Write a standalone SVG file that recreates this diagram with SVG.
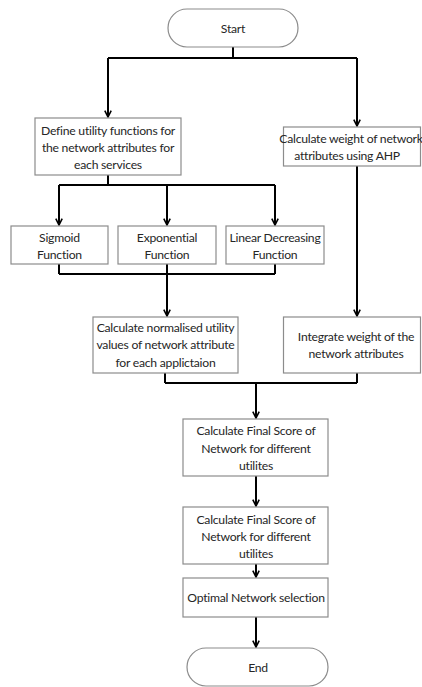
<svg xmlns="http://www.w3.org/2000/svg" width="422" height="687" viewBox="0 0 422 687">
<defs>
<marker id="arr" viewBox="0 0 10 10" refX="9" refY="5" markerWidth="8" markerHeight="8" markerUnits="userSpaceOnUse" orient="auto">
<path d="M1,1 L9,5 L1,9" fill="none" stroke="#000" stroke-width="2"/>
</marker>
<style>
.box{fill:#fff;stroke:#8c8c8c;stroke-width:1.2}
.t{font-family:Lato,"Open Sans","Liberation Sans",sans-serif;font-size:12.2px;letter-spacing:-0.25px;fill:#262626;text-anchor:middle;dominant-baseline:central}
.c{fill:none;stroke:#000;stroke-width:2}
</style>
</defs>
<rect width="422" height="687" fill="#fff"/>
<g id="connectors">
<path class="c" d="M233,47 V58 M108,58 H357"/>
<path class="c" d="M108,58 V117" marker-end="url(#arr)"/>
<path class="c" d="M357,58 V126" marker-end="url(#arr)"/>
<path class="c" d="M108,175 V185 M59,185 H275"/>
<path class="c" d="M59,185 V225" marker-end="url(#arr)"/>
<path class="c" d="M167,185 V225" marker-end="url(#arr)"/>
<path class="c" d="M275,185 V225" marker-end="url(#arr)"/>
<path class="c" d="M59,264 V274 M167,264 V274 M275,264 V274 M59,274 H275"/>
<path class="c" d="M167,274 V316" marker-end="url(#arr)"/>
<path class="c" d="M357,166 V316" marker-end="url(#arr)"/>
<path class="c" d="M165,373 V383 M357,373 V383 M165,383 H357"/>
<path class="c" d="M256,383 V418" marker-end="url(#arr)"/>
<path class="c" d="M256,476 V506" marker-end="url(#arr)"/>
<path class="c" d="M256,564 V577" marker-end="url(#arr)"/>
<path class="c" d="M256,617 V647" marker-end="url(#arr)"/>
</g>
<g id="start">
<rect class="box" x="168" y="9" width="130" height="38" rx="19"/>
<text class="t" x="233" y="28">Start</text>
</g>
<g id="define">
<rect class="box" x="35" y="118" width="146" height="57"/>
<text class="t" x="108" y="130">Define utility functions for</text>
<text class="t" x="108" y="147">the network attributes for</text>
<text class="t" x="108" y="164">each services</text>
</g>
<g id="weight">
<rect class="box" x="283.5" y="127" width="137" height="39"/>
<text class="t" x="351" y="138">Calculate weight of network</text>
<text class="t" x="347" y="155">attributes using AHP</text>
</g>
<g id="sigmoid">
<rect class="box" x="11" y="226" width="97" height="38"/>
<text class="t" x="59.5" y="237">Sigmoid</text>
<text class="t" x="59.5" y="254">Function</text>
</g>
<g id="exponential">
<rect class="box" x="118" y="226" width="98" height="38"/>
<text class="t" x="167" y="237">Exponential</text>
<text class="t" x="167" y="254">Function</text>
</g>
<g id="linear">
<rect class="box" x="226" y="226" width="98" height="38"/>
<text class="t" x="275" y="237">Linear Decreasing</text>
<text class="t" x="275" y="254">Function</text>
</g>
<g id="normalised">
<rect class="box" x="93" y="317" width="145" height="56"/>
<text class="t" x="165.5" y="327">Calculate normalised utility</text>
<text class="t" x="165.5" y="344">values of network attribute</text>
<text class="t" x="165.5" y="362">for each applictaion</text>
</g>
<g id="integrate">
<rect class="box" x="283.5" y="317" width="137" height="56"/>
<text class="t" x="356" y="336">Integrate weight of the</text>
<text class="t" x="356" y="353">network attributes</text>
</g>
<g id="final1">
<rect class="box" x="183" y="419" width="145" height="57"/>
<text class="t" x="256" y="430">Calculate Final Score of</text>
<text class="t" x="256" y="448">Network for different</text>
<text class="t" x="256" y="465">utilites</text>
</g>
<g id="final2">
<rect class="box" x="183" y="507" width="145" height="57"/>
<text class="t" x="256" y="519">Calculate Final Score of</text>
<text class="t" x="256" y="536">Network for different</text>
<text class="t" x="256" y="553">utilites</text>
</g>
<g id="optimal">
<rect class="box" x="183" y="578" width="145" height="39"/>
<text class="t" x="256" y="597">Optimal Network selection</text>
</g>
<g id="end">
<rect class="box" x="187" y="648" width="141" height="38" rx="19"/>
<text class="t" x="258" y="667">End</text>
</g>
</svg>
